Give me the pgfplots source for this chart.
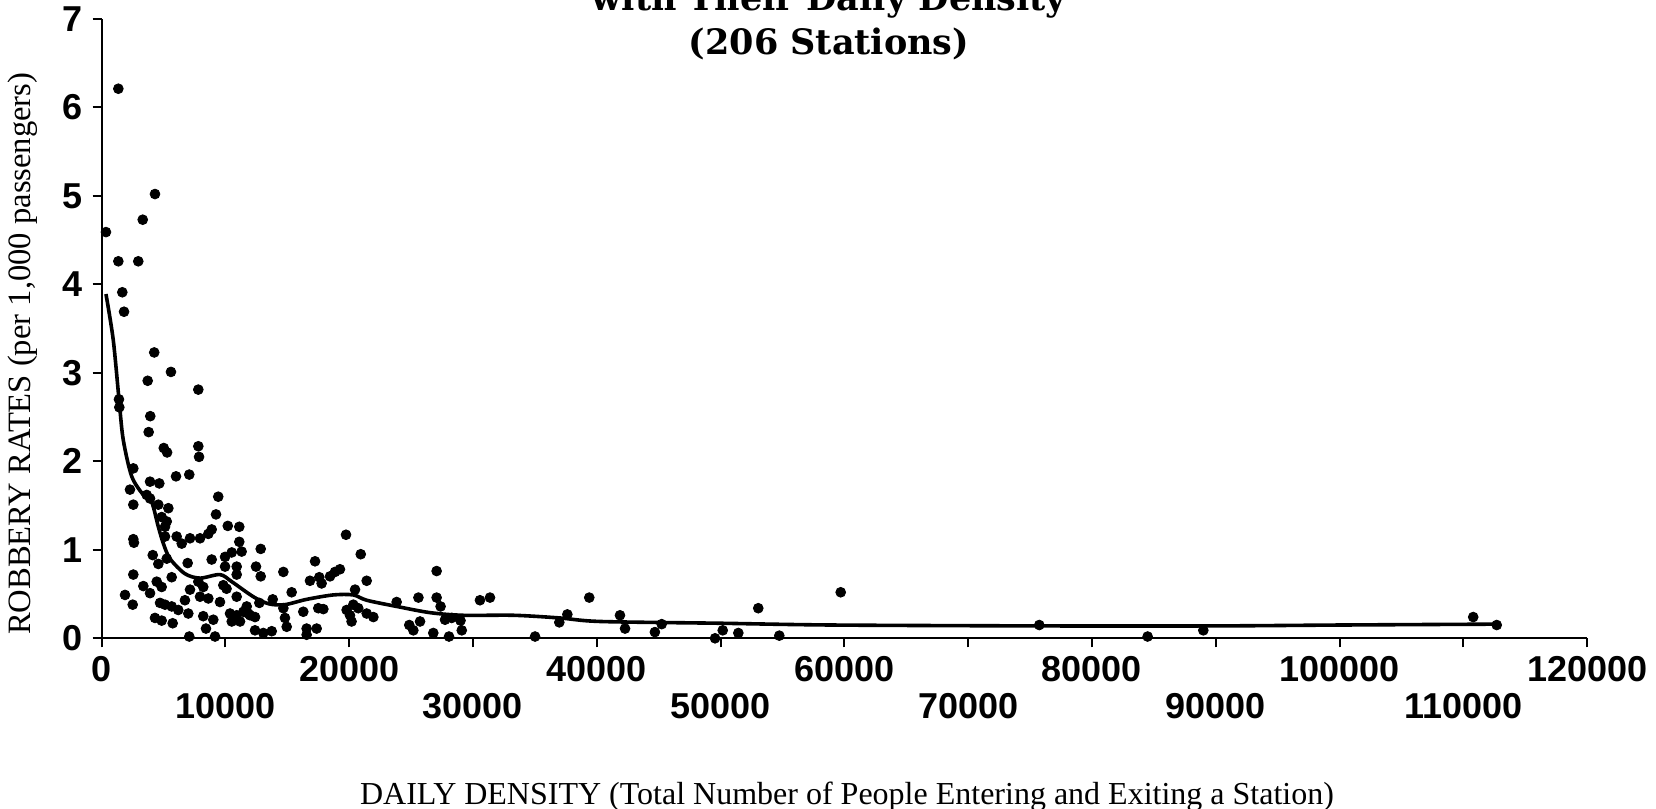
\documentclass[border=0pt]{standalone}
\usepackage{pgfplots}
\pgfplotsset{compat=1.18}
\usepackage{fontspec}
\setmainfont{Liberation Serif}
\newfontfamily\tickfont{Liberation Sans}
\newfontfamily\titlefont{DejaVu Serif}
\begin{document}
\begin{tikzpicture}
\useasboundingbox (0,0) rectangle (828pt,404.5pt);
\begin{axis}[
  at={(50.75pt,85.35pt)}, anchor=south west,
  scale only axis, width=742.8pt, height=309.75pt,
  xmin=0, xmax=120000, ymin=0, ymax=7,
  axis x line*=bottom, axis y line*=left,
  axis line style={line width=1pt, black},
  tick align=outside, major tick length=4.5pt,
  tick style={line width=1pt, black},
  scaled x ticks=false,
  xtick={0,20000,40000,60000,80000,100000,120000},
  xticklabels={0,20000,40000,60000,80000,100000,120000},
  extra x ticks={10000,30000,50000,70000,90000,110000},
  extra x tick labels={10000,30000,50000,70000,90000,110000},
  extra x tick style={xticklabel style={yshift=-18.6pt}},
  xticklabel style={anchor=center, yshift=-10.8pt},
  ytick={0,1,2,3,4,5,6,7},
  yticklabels={0,1,2,3,4,5,6,7},
  yticklabel style={anchor=east, xshift=-1.5pt},
  ticklabel style={font=\tickfont\bfseries\fontsize{18}{18}\selectfont},
  clip=false,
]
\addplot[only marks, mark=*, mark size=2.45pt, black] coordinates {
(1360,6.21)(4320,5.02)(3330,4.73)(360,4.59)(1360,4.26)(2970,4.26)(1680,3.91)(1820,3.69)
(4260,3.23)(5610,3.01)(3730,2.91)(7820,2.81)(1410,2.70)(1440,2.61)(3940,2.51)(3810,2.33)
(5030,2.15)(5300,2.10)(7820,2.17)(7880,2.05)
(2570,1.92)(6020,1.83)(7090,1.85)(2300,1.68)(3920,1.77)(4670,1.75)(3650,1.62)(3920,1.58)
(2570,1.51)(9430,1.60)(4590,1.51)(5400,1.47)(4860,1.37)(5270,1.32)(5130,1.26)(9250,1.40)
(2570,1.12)(2620,1.08)(5130,1.15)(6070,1.15)(6480,1.07)(7150,1.13)(7960,1.13)(8630,1.18)
(8900,1.23)(10200,1.27)(11130,1.26)(11130,1.09)(11320,0.98)(4140,0.94)(4590,0.84)(6960,0.85)
(5270,0.90)(8900,0.89)(9980,0.92)(10520,0.97)(9980,0.81)(10920,0.81)(10920,0.72)(2570,0.72)
(5670,0.69)(7820,0.64)(8220,0.58)(3380,0.59)(3920,0.51)(4460,0.64)(4860,0.58)(7150,0.55)
(7960,0.47)(8630,0.45)(9840,0.60)(10100,0.56)(1900,0.49)(2520,0.38)(4730,0.40)(5130,0.38)
(5670,0.36)(6740,0.43)(9570,0.41)(10920,0.47)(6200,0.32)(7010,0.28)(4320,0.23)(4860,0.20)
(5750,0.17)(8220,0.25)(9030,0.21)(8440,0.11)(10380,0.28)(10920,0.26)(11460,0.30)(11860,0.28)
(10520,0.19)(11190,0.19)(7090,0.02)(9170,0.02)
(12860,1.01)(12480,0.81)(12860,0.70)(14690,0.75)(17250,0.87)(19750,1.17)(20940,0.95)(21420,0.65)
(15360,0.52)(16840,0.65)(17590,0.69)(17780,0.62)(18460,0.70)(18860,0.75)(19260,0.78)(20480,0.55)
(13830,0.44)(12750,0.40)(11730,0.36)(12000,0.26)(12400,0.24)(14690,0.34)(14820,0.23)(14960,0.13)
(16300,0.30)(17510,0.34)(17920,0.33)(19800,0.32)(20070,0.26)(20340,0.38)(20200,0.19)(20740,0.34)
(21420,0.28)(21960,0.24)(12400,0.09)(13070,0.06)(13750,0.08)(16570,0.11)(17380,0.11)(16570,0.04)
(27070,0.76)(23840,0.41)(25600,0.46)(27070,0.46)(27390,0.36)(27750,0.21)(28290,0.23)(29000,0.20)
(24860,0.15)(25190,0.09)(25730,0.19)(26800,0.06)(28070,0.02)(29100,0.09)(30570,0.43)(31380,0.46)
(35020,0.02)(36980,0.18)(37630,0.27)(39400,0.46)(41880,0.26)(42290,0.11)
(44700,0.07)(45250,0.16)(49560,0.00)(50180,0.09)(51440,0.06)(53050,0.34)(54750,0.03)(59710,0.52)
(75750,0.15)(84500,0.02)(89000,0.09)(110800,0.24)(112700,0.15)
};
\addplot[black, line width=1.8pt, smooth, tension=0.5] coordinates {
(360,3.89)(950,3.37)(1440,2.66)(1760,2.24)(2440,1.83)(3380,1.62)(4050,1.54)(4590,1.26)
(5000,1.07)(5530,0.90)(6740,0.73)(7960,0.68)(9570,0.72)(10520,0.64)(12260,0.47)(13500,0.39)
(14800,0.38)(16570,0.44)(18720,0.49)(20340,0.49)(21420,0.43)(23840,0.36)(26530,0.29)(29200,0.26)
(33300,0.26)(37000,0.23)(40300,0.19)(50000,0.17)(59100,0.15)(75750,0.14)(90000,0.14)(100000,0.15)
(112700,0.16)
};
\end{axis}
\node[anchor=base, font=\titlefont\bfseries\fontsize{17.5}{21}\selectfont] at (414.5pt,399.2pt) {with Their Daily Density};
\node[anchor=base, font=\titlefont\bfseries\fontsize{17.5}{21}\selectfont] at (414.5pt,377pt) {(206 Stations)};
\node[rotate=90, font=\fontsize{16.3}{16.3}\selectfont] at (11.6pt,227.6pt) {ROBBERY RATES (per 1,000 passengers)};
\node[anchor=base, font=\fontsize{16}{16}\selectfont] at (423.5pt,2.2pt) {DAILY DENSITY (Total Number of People Entering and Exiting a Station)};
\end{tikzpicture}
\end{document}
